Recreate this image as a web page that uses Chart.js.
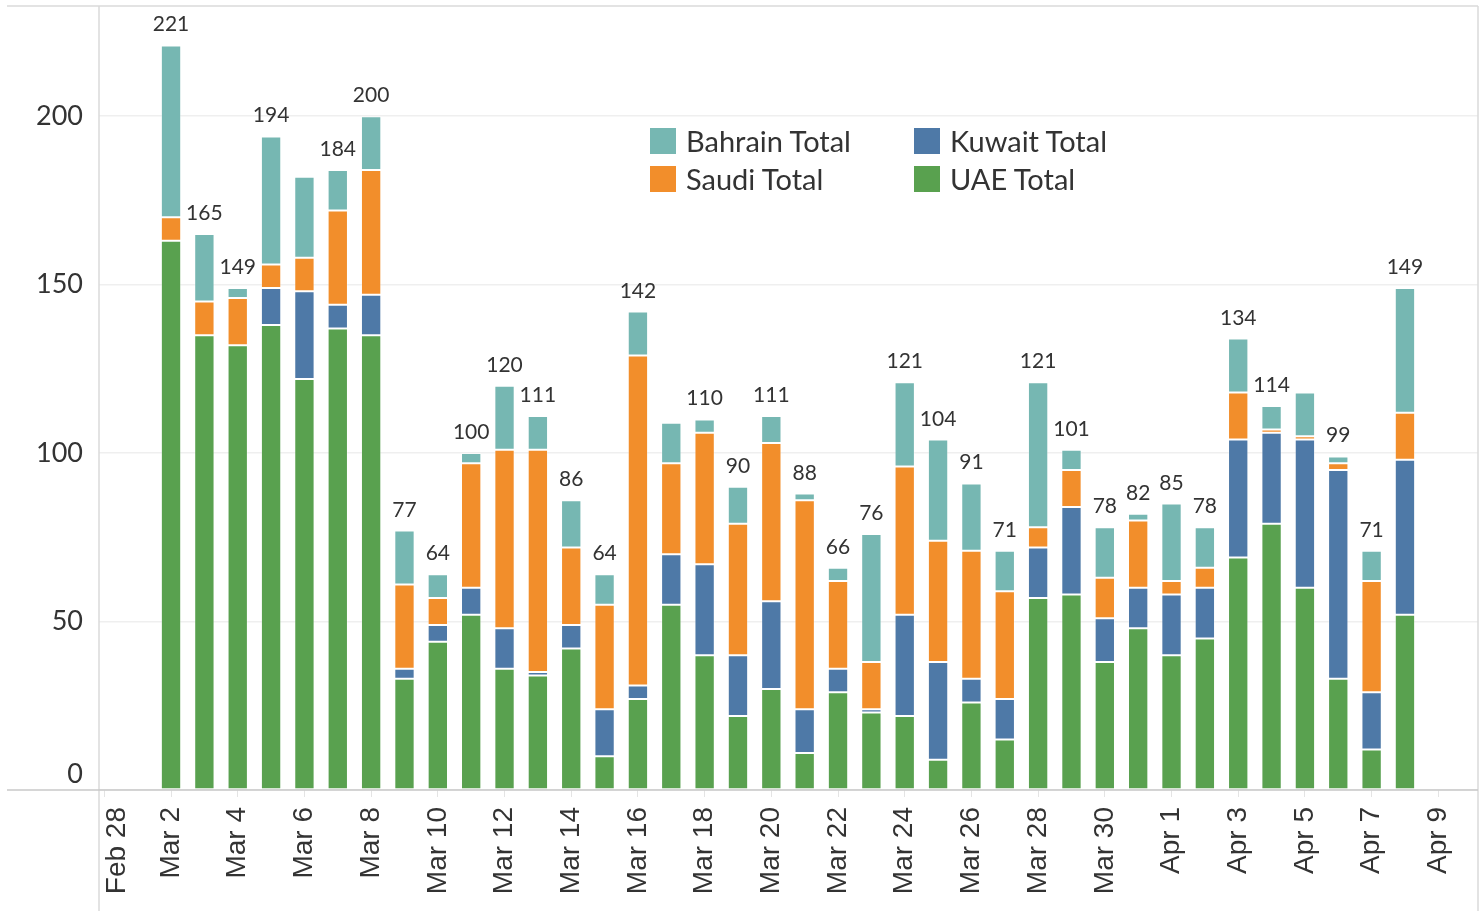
<!DOCTYPE html>
<html>
<head>
<meta charset="utf-8">
<script src="https://cdn.jsdelivr.net/npm/chart.js@4/dist/chart.umd.min.js"></script>
<style>
  body { margin: 0; background: #fff; }
  #wrap { position: relative; width: 1484px; height: 911px; }
  #legend {
    position: absolute; left: 650px; top: 122px;
    display: grid; grid-template-columns: 264px 220px; row-gap: 1px;
    font-family: Lato, sans-serif; font-size: 29px; color: #333;
  }
  #legend div { display: flex; align-items: center; height: 37px; }
  #legend span { display: inline-block; width: 26px; height: 26px; margin-right: 10px; }
</style>
</head>
<body>
<div id="wrap">
  <canvas id="chart" width="1484" height="911"></canvas>
  <div id="legend"></div>
</div>
<script>
// axis days, Feb 28 .. Apr 9 (labels on every second day)
const dayLabels = ["Feb 28", "Mar 1", "Mar 2", "Mar 3", "Mar 4", "Mar 5", "Mar 6", "Mar 7", "Mar 8", "Mar 9",
    "Mar 10", "Mar 11", "Mar 12", "Mar 13", "Mar 14", "Mar 15", "Mar 16", "Mar 17", "Mar 18", "Mar 19",
    "Mar 20", "Mar 21", "Mar 22", "Mar 23", "Mar 24", "Mar 25", "Mar 26", "Mar 27", "Mar 28", "Mar 29",
    "Mar 30", "Mar 31", "Apr 1", "Apr 2", "Apr 3", "Apr 4", "Apr 5", "Apr 6", "Apr 7", "Apr 8", "Apr 9"];

// bars run Mar 2 .. Apr 8
const firstDay = "Mar 2";
const uaeTotal     = [163,135,132,138,122,137,135, 33,44,52,36,34,42,10,27,55,40,22,30, 11,29,23,22,9,26,15,57,58,38, 48,40,45,69,79,60,33,12,52];
const kuwaitTotal  = [0,0,0,11,26,7,12, 3,5,8,12,1,7,14,4,15,27,18,26, 13,7,1,30,29,7,12,15,26,13, 12,18,15,35,27,44,62,17,46];
const saudiTotal   = [7,10,14,7,10,28,37, 25,8,37,53,66,23,31,98,27,39,39,47, 62,26,14,44,36,38,32,6,11,12, 20,4,6,14,1,1,2,33,14];
const bahrainTotal = [51,20,3,38,24,12,16, 16,7,3,19,10,14,9,13,12,4,11,8, 2,4,38,25,30,20,12,43,6,15, 2,23,12,16,7,13,2,9,37];

// totals that tableau left unlabelled
const hiddenTotals = ["Mar 6", "Mar 17", "Apr 5"];

// y axis values
const yTicks = [0, 50, 100, 150, 200];

const start = dayLabels.indexOf(firstDay);
function pts(arr) {
    return arr.map((v, i) => ({ x: start + i, y: v }));
}

// bottom of the stack first
const series = [
    { label: "UAE Total", color: "#59A14F", values: uaeTotal },
    { label: "Kuwait Total", color: "#4E79A7", values: kuwaitTotal },
    { label: "Saudi Total", color: "#F28E2B", values: saudiTotal },
    { label: "Bahrain Total", color: "#76B7B2", values: bahrainTotal },
];

// legend, laid out like the original (2 columns)
const legendOrder = ["Bahrain Total", "Kuwait Total", "Saudi Total", "UAE Total"];
const legendEl = document.getElementById("legend");
legendOrder.forEach(name => {
    const s = series.find(d => d.label === name);
    const item = document.createElement("div");
    item.innerHTML = '<span style="background:' + s.color + '"></span>' + s.label;
    legendEl.appendChild(item);
});

const totalsPlugin = {
    id: "totals",
    afterDatasetsDraw(chart) {
        const ctx = chart.ctx;
        const xs = chart.scales.x, ys = chart.scales.y;
        ctx.save();
        ctx.font = "21px Lato";
        ctx.fillStyle = "#333";
        ctx.textAlign = "center";
        ctx.textBaseline = "alphabetic";
        for (let i = 0; i < uaeTotal.length; i++) {
            const day = dayLabels[start + i];
            if (hiddenTotals.includes(day)) continue;
            const tot = uaeTotal[i] + kuwaitTotal[i] + saudiTotal[i] + bahrainTotal[i];
            ctx.fillText(String(tot), xs.getPixelForValue(start + i), ys.getPixelForValue(tot) - 14);
        }
        ctx.restore();
    }
};

// frame lines the way tableau draws them (running past the plot area),
// plus axis labels: tableau nudges the edge labels inside (0 above the axis, Feb 28 right of the line)
const framePlugin = {
    id: "frame",
    afterDraw(chart) {
        const ctx = chart.ctx;
        const a = chart.chartArea;
        const xs = chart.scales.x, ys = chart.scales.y;
        ctx.save();
        ctx.lineWidth = 1.5;
        ctx.strokeStyle = "#dadada";
        ctx.beginPath();
        ctx.moveTo(7, a.top); ctx.lineTo(a.right, a.top);
        ctx.moveTo(a.left, a.top); ctx.lineTo(a.left, chart.height);
        ctx.moveTo(a.right, a.top); ctx.lineTo(a.right, chart.height);
        ctx.stroke();
        ctx.strokeStyle = "#c9c9c9";
        ctx.beginPath();
        ctx.moveTo(7, a.bottom); ctx.lineTo(a.right, a.bottom);
        ctx.stroke();

        ctx.fillStyle = "#333";
        ctx.font = "27px Lato";
        ctx.textAlign = "right";
        ctx.textBaseline = "middle";
        yTicks.forEach(v => {
            let y = ys.getPixelForValue(v);
            if (y > a.bottom - 14) y = a.bottom - 16;
            ctx.fillText(String(v), a.left - 16, y);
        });

        ctx.font = "28px 'Liberation Sans', Arial, sans-serif";
        xs.ticks.forEach(t => {
            const x = Math.max(xs.getPixelForValue(t.value), a.left + 18);
            ctx.save();
            ctx.translate(x, a.bottom + 17);
            ctx.rotate(-Math.PI / 2);
            ctx.fillText(dayLabels[t.value], 0, 0);
            ctx.restore();
        });
        ctx.restore();
    }
};

const chart = new Chart("chart", {
    type: "bar",
    data: {
        datasets: series.map(s => ({
            label: s.label,
            data: pts(s.values),
            backgroundColor: s.color,
            borderColor: "rgba(255,255,255,0.3)",
            borderWidth: 1,
            borderSkipped: false,
            barPercentage: 0.61,
            categoryPercentage: 1.0
        }))
    },
    options: {
        responsive: false,
        animation: false,
        layout: { padding: { top: 6, right: 6, left: 0, bottom: 0 } },
        plugins: {
            legend: { display: false },
            tooltip: { enabled: false }
        },
        scales: {
            x: {
                type: "linear",
                stacked: true,
                offset: false,
                min: -0.16,
                max: 41.19,
                afterFit: s => {
                    s.height = 121;
                    s.paddingLeft = 0;
                    s.paddingRight = 0;
                },
                afterBuildTicks: s => {
                    s.ticks = [];
                    for (let v = 0; v < dayLabels.length; v += 2) s.ticks.push({ value: v });
                },
                grid: { drawOnChartArea: false, drawTicks: true, tickLength: 7, color: "#e4e4e4", offset: false },
                border: { display: false },
                ticks: { display: false }
            },
            y: {
                stacked: true,
                min: 0,
                max: 232.7,
                afterFit: s => {
                    s.width = 99;
                    s.paddingTop = 0;
                    s.paddingBottom = 0;
                },
                afterBuildTicks: s => {
                    s.ticks = yTicks.map(v => ({ value: v }));
                },
                grid: { color: "#efefef", lineWidth: 1.5, drawTicks: false },
                border: { display: false },
                ticks: { display: false }
            }
        }
    },
    plugins: [totalsPlugin, framePlugin]
});
</script>
</body>
</html>
